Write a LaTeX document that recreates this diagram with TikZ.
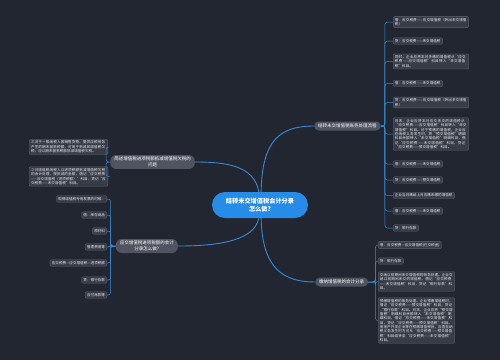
\documentclass[tikz,border=0pt]{standalone}
\usepackage{fontspec}
\setmainfont{Noto Sans CJK SC}
\usetikzlibrary{positioning,arrows.meta}
\XeTeXlinebreaklocale "zh"
\XeTeXlinebreakskip=0pt plus 1pt
\definecolor{mapBg}{RGB}{34,38,48}
\definecolor{mapBlue}{RGB}{38,140,232}
\definecolor{mapLink}{RGB}{52,138,214}
\definecolor{mapGrey}{RGB}{80,84,96}
\definecolor{leafFill}{RGB}{56,60,71}
\definecolor{leafLine}{RGB}{96,101,114}
\definecolor{leafText}{RGB}{232,234,238}

\begin{document}
\begin{tikzpicture}[x=1pt, y=-1pt,
  hub/.style={fill=mapBlue, rounded corners=13pt, minimum width=96pt,
              minimum height=26pt, align=center, text=white, inner sep=2pt,
              font=\fontsize{6.2pt}{8.2pt}\selectfont\bfseries},
  branch/.style={fill=mapGrey, rounded corners=4.5pt, align=center, text=white,
                 font=\fontsize{4.5pt}{5.8pt}\selectfont, inner xsep=4pt,
                 inner ysep=2pt, minimum height=9pt},
  leaf/.style={draw=leafLine, line width=0.3pt, fill=leafFill, rounded corners=1pt,
               align=left, text=leafText, font=\fontsize{3.6pt}{4.35pt}\selectfont,
               inner xsep=1.8pt, inner ysep=1.5pt},
  limb/.style={draw=mapLink, line width=0.9pt},
  twig/.style={draw=mapLink, line width=0.5pt, rounded corners=2.5pt}]
  \fill[mapBg] (0,0) rectangle (500,360);
  \useasboundingbox (0,0) rectangle (500,360);

  \node[hub] (hub) at (260,205) {结转未交增值税会计分录\\怎么做?};
  \node[branch, anchor=west] (rt) at (314,126) {结转未交增值税账务处理流程};
  \node[branch, anchor=west] (rb) at (315,282) {缴纳增值税的会计分录};
  \node[branch, anchor=east, rounded corners=6pt] (lt) at (195,162) {简述增值税进项税额抵减增值税欠税的\\问题};
  \node[branch, anchor=east, rounded corners=6pt] (lb) at (178,246) {应交增值税进项税额的会计\\分录怎么做?};

  \node[leaf, anchor=west, text width=72pt] (rt1) at (393,22) {借：应交税费——应交增值税（转出未交增值税）};
  \node[leaf, anchor=west] (rt2) at (393,41) {贷：应交税费——未交增值税};
  \node[leaf, anchor=west, text width=72pt] (rt3) at (393,61.5) {同时，企业应将本月多缴的增值税从“应交税费——应交增值税”科目转入“未交增值税”科目。};
  \node[leaf, anchor=west] (rt4) at (393,83.5) {借：应交税费——未交增值税};
  \node[leaf, anchor=west, text width=72pt] (rt5) at (393,102.5) {贷：应交税费——应交增值税（转出多交增值税）};
  \node[leaf, anchor=west, text width=72pt] (rt6) at (393,134) {月末，企业应将本月应交未交的增值税从“应交税费——应交增值税”科目转入“未交增值税”科目。对于预缴的增值税，企业应在纳税义务发生时，将“预交增值税”明细科目余额转入“未交增值税”明细科目，借记“应交税费——未交增值税”科目，贷记“应交税费——预交增值税”科目。};
  \node[leaf, anchor=west] (rt7) at (393,164) {借：应交税费——未交增值税};
  \node[leaf, anchor=west] (rt8) at (393,180) {贷：应交税费——预交增值税};
  \node[leaf, anchor=west] (rt9) at (393,195.5) {企业当月缴纳上月应缴未缴的增值税};
  \node[leaf, anchor=west] (rt10) at (393,211) {借：应交税费——未交增值税};
  \node[leaf, anchor=west] (rt11) at (393,228) {贷：银行存款};

  \node[leaf, anchor=west] (rb1) at (378,245) {借：应交税费—应交增值税(已交税金)};
  \node[leaf, anchor=west] (rb2) at (378,261) {贷：银行存款};
  \node[leaf, anchor=west, text width=73pt] (rb3) at (378,281.5) {交纳以前期间未交增值税的账务处理。企业交纳以前期间未交的增值税，借记“应交税费——未交增值税”科目，贷记“银行存款”科目。};
  \node[leaf, anchor=west, text width=73pt] (rb4) at (378,320.5) {预缴增值税的账务处理。企业预缴增值税时，借记“应交税费——预交增值税”科目，贷记“银行存款”科目。月末，企业应将“预交增值税”明细科目余额转入“未交增值税”明细科目，借记“应交税费——未交增值税”科目，贷记“应交税费——预交增值税”科目。房地产开发企业等在预缴增值税后，应直至纳税义务发生时方可从“应交税费——预交增值税”科目结转至“应交税费——未交增值税”科目。};

  \node[leaf, anchor=east, text width=75pt] (lt1) at (108,147) {三对于一般纳税人因销售货物、提供应税劳务产生的期末留抵税额，可用于抵减其增值税欠税，应以期末留抵税额抵减增值税欠税。};
  \node[leaf, anchor=east, text width=75pt] (lt2) at (108,176.5) {②对增值税纳税人以进项税额抵减增值税欠税的会计处理，按抵减的金额，借记“应交税费——应交增值税（进项税额）”科目，贷记“应交税费——未交增值税”科目。};

  \node[leaf, anchor=east] (lb1) at (107,199) {取得增值税专用发票的时候：};
  \node[leaf, anchor=east] (lb2) at (107,215) {借：库存商品};
  \node[leaf, anchor=east] (lb3) at (107,231) {原材料};
  \node[leaf, anchor=east] (lb4) at (107,247) {管理费用等};
  \node[leaf, anchor=east] (lb5) at (107,263) {应交税费—应交增值税—进项税额};
  \node[leaf, anchor=east] (lb6) at (107,280) {贷：银行存款};
  \node[leaf, anchor=east] (lb7) at (107,295) {应付账款等};

  \draw[limb] (hub.85) .. controls (262,140) and (280,126) .. (rt.west);
  \draw[limb] (hub.95) .. controls (254,165) and (225,162) .. (lt.east);
  \draw[limb] (hub.265) .. controls (254,243) and (210,246) .. (lb.east);
  \draw[limb] (hub.275) .. controls (262,270) and (285,282) .. (rb.west);

  \draw[twig] (rt.east) -- ++(4,0) |- (rt1.west);
  \draw[twig] (rt.east) -- ++(4,0) |- (rt2.west);
  \draw[twig] (rt.east) -- ++(4,0) |- (rt3.west);
  \draw[twig] (rt.east) -- ++(4,0) |- (rt4.west);
  \draw[twig] (rt.east) -- ++(4,0) |- (rt5.west);
  \draw[twig] (rt.east) -- ++(4,0) |- (rt6.west);
  \draw[twig] (rt.east) -- ++(4,0) |- (rt7.west);
  \draw[twig] (rt.east) -- ++(4,0) |- (rt8.west);
  \draw[twig] (rt.east) -- ++(4,0) |- (rt9.west);
  \draw[twig] (rt.east) -- ++(4,0) |- (rt10.west);
  \draw[twig] (rt.east) -- ++(4,0) |- (rt11.west);

  \draw[twig] (rb.east) -- ++(7,0) |- (rb1.west);
  \draw[twig] (rb.east) -- ++(7,0) |- (rb2.west);
  \draw[twig] (rb.east) -- ++(7,0) |- (rb3.west);
  \draw[twig] (rb.east) -- ++(7,0) |- (rb4.west);

  \draw[twig] (lt.west) -- ++(-4,0) |- (lt1.east);
  \draw[twig] (lt.west) -- ++(-4,0) |- (lt2.east);

  \draw[twig] (lb.west) -- ++(-5,0) |- (lb1.east);
  \draw[twig] (lb.west) -- ++(-5,0) |- (lb2.east);
  \draw[twig] (lb.west) -- ++(-5,0) |- (lb3.east);
  \draw[twig] (lb.west) -- ++(-5,0) |- (lb4.east);
  \draw[twig] (lb.west) -- ++(-5,0) |- (lb5.east);
  \draw[twig] (lb.west) -- ++(-5,0) |- (lb6.east);
  \draw[twig] (lb.west) -- ++(-5,0) |- (lb7.east);
\end{tikzpicture}
\end{document}
